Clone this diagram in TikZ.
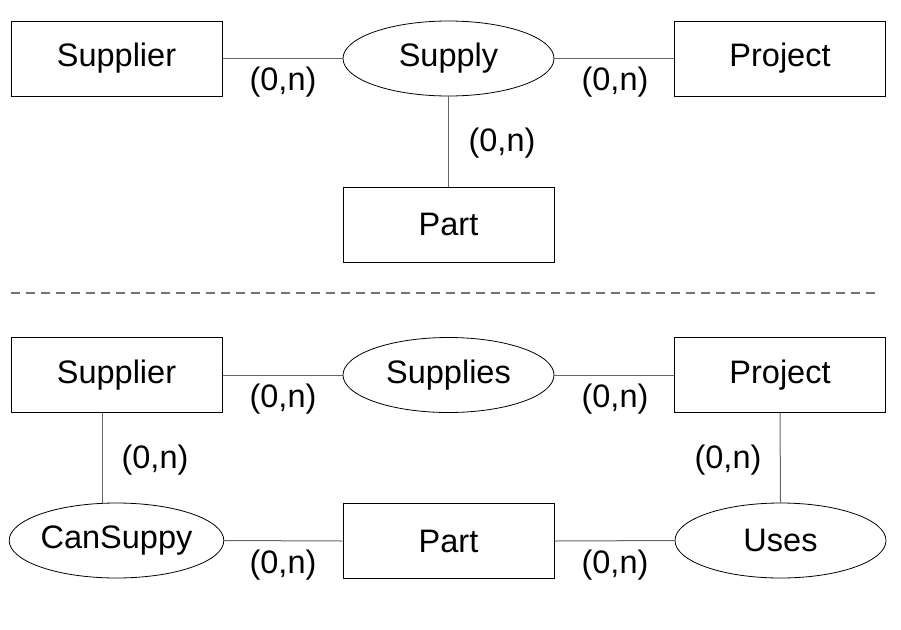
\documentclass[tikz,border=0pt]{standalone}
\usepackage{fontspec}
\setmainfont{Liberation Sans}
\usetikzlibrary{shapes.geometric}
\begin{document}
\begin{tikzpicture}[x=1pt,y=-1pt,
  every node/.style={font=\fontsize{32.5}{39}\selectfont},
  entity/.style={draw=black,line width=1pt,rectangle,minimum width=211pt,minimum height=75pt,inner sep=0pt},
  relation/.style={draw=black,line width=0.8pt,ellipse,minimum width=211pt,minimum height=75pt,inner sep=0pt},
  conn/.style={draw=black!60,line width=1pt},
  card/.style={inner sep=0pt},
  sep/.style={draw=black!55,line width=1.2pt,dash pattern=on 9pt off 6pt}]
\useasboundingbox (0,0) rectangle (901,629);
% top
\node[entity] (sup1) at (116.5,58.5) {Supplier};
\node[relation] (sply) at (448.5,58.5) {Supply};
\node[entity] (prj1) at (780,58.5) {Project};
\node[entity] (part1) at (448.5,224.5) {Part};
\draw[conn] (sup1.east) -- (sply.west);
\draw[conn] (sply.east) -- (prj1.west);
\draw[conn] (sply.south) -- (part1.north);
\node[card] (c1) at (283,82) {(0,n)};
\node[card] (c2) at (615,82) {(0,n)};
\node[card] (c3) at (502,143) {(0,n)};
% separator
\coordinate (dl) at (11,293);
\coordinate (dr) at (880,293);
\draw[sep] (dl) -- (dr);
% bottom
\node[entity] (sup2) at (116.5,375) {Supplier};
\node[relation] (splies) at (448.5,375) {Supplies};
\node[entity] (prj2) at (780,375) {Project};
\node[relation] (can) at (116.5,540.5) {CanSuppy};
\node[entity] (part2) at (448.5,541) {Part};
\node[relation] (uses) at (780.5,540.5) {Uses};
\draw[conn] (sup2.east) -- (splies.west);
\draw[conn] (splies.east) -- (prj2.west);
\draw[conn] ([xshift=-14.5pt]sup2.south) -- ([xshift=-14.5pt]can.north);
\draw[conn] (can.east) -- (part2.west);
\draw[conn] (part2.east) -- (uses.west);
\draw[conn] (prj2.south) -- (uses.north);
\node[card] (c4) at (283,399) {(0,n)};
\node[card] (c5) at (615,399) {(0,n)};
\node[card] (c6) at (155,460) {(0,n)};
\node[card] (c7) at (728,460) {(0,n)};
\node[card] (c8) at (283,565) {(0,n)};
\node[card] (c9) at (615,565) {(0,n)};
\end{tikzpicture}
\end{document}
